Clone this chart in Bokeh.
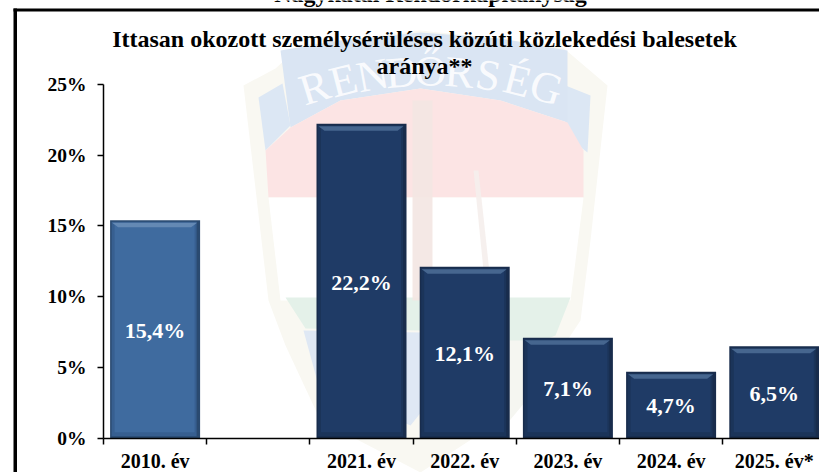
from bokeh.plotting import figure
from bokeh.models import Range1d, FixedTicker, PolyAnnotation, Label
from bokeh.core.properties import value
from bokeh.embed import file_html
from bokeh.resources import INLINE

categories = ["2010. év", "", "2021. év", "2022. év", "2023. év", "2024. év", "2025. év*"]
shares = [15.4, None, 22.2, 12.1, 7.1, 4.7, 6.5]
y_ticks = [0, 5, 10, 15, 20, 25]
title_lines = ["Ittasan okozott személysérüléses közúti közlekedési balesetek", "aránya**"]
header = "Nagykátai Rendőrkapitányság"
badge_word = "RENDŐRSÉG"

SERIF = "Liberation Serif"
W, H = 819, 472
LEFT, BASE = 103, 437.7
PX_PER_CAT, PX_PER_PCT = 103.2, 14.16
dx, dy = 1 / PX_PER_CAT, 1 / PX_PER_PCT
LABEL_SHIFT = -10  # canvas labels land this far below their anchor

p = figure(width=W, height=H, output_backend="svg", toolbar_location=None,
           x_range=Range1d(-LEFT * dx, (W - LEFT) * dx), y_range=Range1d(-(H - BASE) * dy, BASE * dy),
           min_border_left=0, min_border_right=0, min_border_top=0, min_border_bottom=0,
           background_fill_color="white", border_fill_color="white", outline_line_color=None)
p.grid.visible = False

# pale badge in the background (decoration, canvas pixels)
def poly(xs, ys, color, alpha=1.0, level="underlay"):
    p.add_layout(PolyAnnotation(xs=xs, ys=ys, xs_units="canvas", ys_units="canvas",
                                fill_color=color, fill_alpha=alpha, line_color=None, level=level))

poly([243, 275, 300, 420, 560, 607, 590, 580, 550, 500, 420, 320, 285, 268],
     [85, 68, 45, 30, 45, 85, 240, 320, 365, 420, 472, 420, 345, 300], "#F9F8F2")
poly([258, 282, 290, 265], [97, 83, 125, 150], "#DCE7F4")
poly([565, 590, 587, 565], [85, 95, 152, 135], "#DCE7F4")
poly([280, 340, 420, 500, 567, 567, 500, 420, 340, 290], [50, 40, 32, 38, 50, 122, 100, 88, 100, 127], "#DAE5F3")
poly([265, 290, 340, 420, 500, 567, 583, 583, 268], [150, 127, 100, 88, 100, 122, 150, 197, 197], "#FCE4E4")
poly([268, 583, 570, 280], [197, 197, 300, 300], "#FFFFFF")
poly([285, 570, 555, 530, 420, 305], [297, 297, 335, 345, 330, 328], "#E4F1E9")
poly([303, 420, 430, 410, 318], [330, 332, 400, 425, 385], "#DFE8F4")
poly([500, 555, 530, 505], [340, 340, 395, 425], "#F5F6F1")
poly([412, 432, 432, 412], [100, 100, 300, 300], "#F3E6E2", 0.9)
poly([473, 478, 492, 486], [170, 170, 300, 300], "#F5EEEC", 0.9)

for ch, cx, cy, ang in zip(badge_word, [314, 343, 372, 401, 430, 459, 488, 517, 546], [97, 90, 85, 82, 81, 82, 85, 90, 97],
                           [0.3, 0.25, 0.18, 0.08, 0, -0.08, -0.18, -0.25, -0.3]):
    p.add_layout(Label(x=cx, y=cy + LABEL_SHIFT, x_units="canvas", y_units="canvas", text=ch, text_font=SERIF,
                       text_font_size="44px", text_color="white", text_alpha=0.85, angle=ang,
                       text_align="center", text_baseline="alphabetic", level="underlay"))

# chart frame
poly([13, 16.5, 16.5, 13], [8, 8, H, H], "black", level="overlay")
poly([13, W, W, 13], [8, 8, 11, 11], "black", level="overlay")

# bars
idx = [i for i, v in enumerate(shares) if v is not None]
xc = [i + 0.5 for i in idx]
vals = [shares[i] for i in idx]
main = ["#3F6B9F" if i == 0 else "#1F3B66" for i in idx]
edge = ["#2A4A70" if i == 0 else "#182C4C" for i in idx]
lite = ["#6489B4" if i == 0 else "#46668F" for i in idx]
low = ["#375F90" if i == 0 else "#1B3459" for i in idx]
bw = 90 * dx

p.vbar(x=xc, top=vals, bottom=0, width=bw, fill_color=edge, line_color=None)
p.vbar(x=[x - 1 * dx for x in xc], top=[v - 1.5 * dy for v in vals], bottom=2 * dy, width=bw - 5 * dx,
       fill_color=low, line_color=None)
p.vbar(x=[x - 0.5 * dx for x in xc], top=[v - 3 * dy for v in vals], bottom=6 * dy, width=bw - 10 * dx,
       fill_color=main, line_color=None)
hx = [[x - bw / 2 + 2 * dx, x + bw / 2 - 3 * dx, x + bw / 2 - 9 * dx, x - bw / 2 + 8 * dx] for x in xc]
hy = [[v - 2.5 * dy, v - 2.5 * dy, v - 7 * dy, v - 7 * dy] for v in vals]
p.patches(hx, hy, fill_color=lite, line_color=None)

texts = [f"{v:.1f}%".replace(".", ",") for v in vals]
p.text(x=xc, y=[v / 2 for v in vals], text=texts, text_font=value(SERIF), text_font_style="bold",
       text_font_size="22px", text_color="white", text_align="center", text_baseline="middle", y_offset=1)

# axes
xa = p.xaxis[0]
xa.fixed_location = 0
xa.bounds = (0, (W - LEFT) * dx)
xa.ticker = FixedTicker(ticks=[i + 0.5 for i in range(len(categories))], minor_ticks=list(range(len(categories))))
xa.major_label_overrides = {i + 0.5: c for i, c in enumerate(categories)}
xa.major_tick_out = 0
xa.major_tick_in = 0
xa.minor_tick_out = 6
xa.minor_tick_in = 0
xa.minor_tick_line_color = "black"
xa.minor_tick_line_width = 1.5
xa.axis_line_color = "black"
xa.axis_line_width = 1.5
xa.major_label_standoff = 6
xa.major_label_text_font = SERIF
xa.major_label_text_font_style = "bold"
xa.major_label_text_font_size = "20px"
xa.major_label_text_color = "black"

ya = p.yaxis[0]
ya.fixed_location = 0
ya.ticker = FixedTicker(ticks=y_ticks)
ya.bounds = (0, 25)
ya.major_label_overrides = {t: f"{t}%" for t in y_ticks}
ya.major_tick_out = 6
ya.major_tick_in = 0
ya.minor_tick_out = 0
ya.minor_tick_in = 0
ya.major_tick_line_width = 1.5
ya.axis_line_width = 1.5
ya.major_label_standoff = 11
ya.major_label_text_font = SERIF
ya.major_label_text_font_style = "bold"
ya.major_label_text_font_size = "19.5px"
ya.major_label_text_color = "black"

# titles
for text, cx, cy, size in [(header, 430, 3, "24px"),
                           (title_lines[0], 424, 48, "24px"),
                           (title_lines[1], 424, 75, "24px")]:
    p.add_layout(Label(x=cx, y=cy + LABEL_SHIFT, x_units="canvas", y_units="canvas", text=text, text_font=SERIF,
                       text_font_style="bold", text_font_size=size, text_color="black",
                       text_align="center", text_baseline="alphabetic"))

open("out.html", "w").write(file_html(p, INLINE))
